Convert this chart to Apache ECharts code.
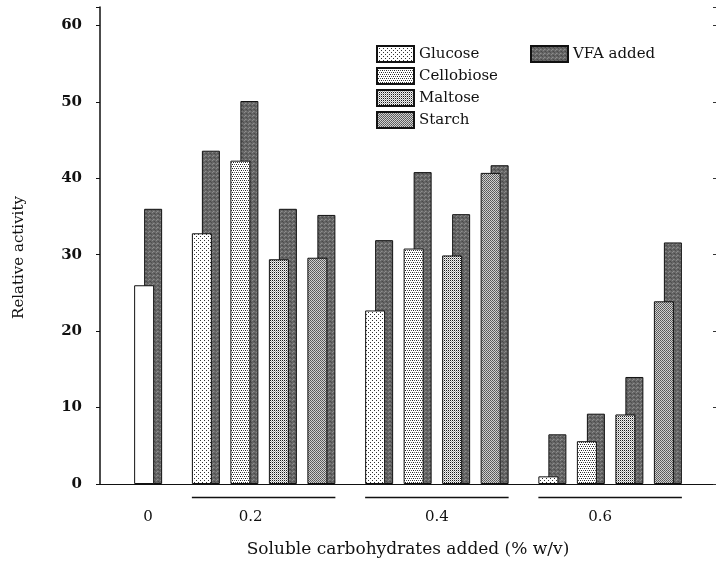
<!DOCTYPE html>
<html>
<head>
<meta charset="utf-8">
<script src="https://cdn.jsdelivr.net/npm/echarts@6/dist/echarts.min.js"></script>
<style>
html, body { margin: 0; padding: 0; background: #fff; }
#main { width: 716px; height: 562px; }
</style>
</head>
<body>
<div id="main"></div>
<script>
// carbohydrate concentrations (% w/v) and sugars
const levels = ['0.2', '0.4', '0.6'];
const sugars = ['Glucose', 'Cellobiose', 'Maltose', 'Starch'];
const yTicks = [0, 10, 20, 30, 40, 50, 60];

// control: no carbohydrate added
const controlValue = 26.0;
const controlVfa = 36.0;

// values for 0.2 / 0.4 / 0.6
const glucose = [32.8, 22.7, 1.0];
const glucoseVfa = [43.6, 31.9, 6.5];
const cellobiose = [42.3, 30.8, 5.6];
const cellobioseVfa = [50.1, 40.8, 9.2];
const maltose = [29.4, 29.9, 9.1];
const maltoseVfa = [36.0, 35.3, 14.0];
const starch = [29.6, 40.7, 23.9];
const starchVfa = [35.2, 41.7, 31.6];

const plain = { Glucose: glucose, Cellobiose: cellobiose, Maltose: maltose, Starch: starch };
const withVfa = { Glucose: glucoseVfa, Cellobiose: cellobioseVfa, Maltose: maltoseVfa, Starch: starchVfa };

// slots on the category axis, null = empty space
const slots = [];
slots.push(null, null);
slots.push({ sugar: 'Control', li: -1 });
levels.forEach((lv, li) => {
  slots.push(null, null);
  sugars.forEach((s, si) => {
    if (si > 0) slots.push(null);
    slots.push({ sugar: s, li: li });
  });
});
slots.push(null, null);

// group labels sit a little left of the group middle in the original
const labelShift = { '0.2': 26, '0.4': 0, '0.6': 20 };
const labelAt = {};
const groupEnds = [];
slots.forEach((s, i) => { if (s && s.sugar === 'Control') labelAt[i] = '0'; });
levels.forEach((lv, li) => {
  const idx = slots.map((s, i) => (s && s.li === li ? i : -1)).filter(i => i >= 0);
  labelAt[Math.round((idx[0] + idx[idx.length - 1]) / 2)] = '{g' + li + '|' + lv + '}';
  groupEnds.push([idx[0], idx[idx.length - 1]]);
});
const labelRich = {};
levels.forEach((lv, li) => {
  labelRich['g' + li] = { fontFamily: 'DejaVu Serif', fontSize: 15, color: '#111', padding: [0, labelShift[lv], 0, 0] };
});

const makePattern = (size, bg, dots) => {
  const c = document.createElement('canvas');
  c.width = size; c.height = size;
  const g = c.getContext('2d');
  g.fillStyle = bg;
  g.fillRect(0, 0, size, size);
  dots.forEach(([x, y, col]) => { g.fillStyle = col; g.fillRect(x, y, 1, 1); });
  return { image: c, repeat: 'repeat' };
};

const fills = {
  Control: '#ffffff',
  Glucose: makePattern(4, '#ffffff', [[0, 0, '#333'], [2, 2, '#333']]),
  Cellobiose: makePattern(4, '#ffffff', [[0, 0, '#222'], [2, 0, '#555'], [1, 2, '#222'], [3, 2, '#555']]),
  Maltose: makePattern(2, '#f2f2f2', [[0, 0, '#1a1a1a'], [1, 1, '#aaaaaa']]),
  Starch: makePattern(2, '#d0d0d0', [[0, 0, '#555'], [1, 1, '#666']]),
  VFA: makePattern(4, '#666666', [[0, 0, '#8a8a8a'], [2, 1, '#4a4a4a'], [1, 3, '#8e8e8e'], [3, 2, '#505050'], [2, 3, '#777'], [1, 1, '#5c5c5c']])
};

const lightW = 20;
const darkW = 18;

const lightSeries = ['Control'].concat(sugars).map(sugar => ({
  name: sugar,
  type: 'bar',
  stack: 'light',
  barWidth: lightW,
  barGap: '-50%',
  z: 3,
  itemStyle: { color: fills[sugar], borderColor: '#111', borderWidth: 1 },
  data: slots.map(s => {
    if (!s || s.sugar !== sugar) return '-';
    return sugar === 'Control' ? controlValue : plain[sugar][s.li];
  })
}));

const vfaSeries = {
  name: 'VFA added',
  type: 'bar',
  stack: 'dark',
  barWidth: darkW,
  barGap: '-50%',
  z: 2,
  itemStyle: { color: fills.VFA, borderColor: '#111', borderWidth: 1 },
  data: slots.map(s => {
    if (!s) return '-';
    return s.sugar === 'Control' ? controlVfa : withVfa[s.sugar][s.li];
  })
};

const font = 'DejaVu Serif';
const myChart = echarts.init(document.getElementById('main'));

myChart.setOption({
  animation: false,
  backgroundColor: '#fff',
  grid: { left: 100, right: 0, top: 7, bottom: 78, outerBoundsMode: 'none', containLabel: false },
  legend: [
    {
      orient: 'vertical',
      left: 376,
      top: 45,
      padding: 0,
      itemWidth: 37,
      itemHeight: 16,
      itemGap: 4,
      icon: 'rect',
      selectedMode: false,
      textStyle: { fontFamily: font, fontSize: 15, color: '#111' },
      data: sugars
    },
    {
      left: 530,
      top: 45,
      padding: 0,
      itemWidth: 37,
      itemHeight: 16,
      icon: 'rect',
      selectedMode: false,
      textStyle: { fontFamily: font, fontSize: 15, color: '#111' },
      data: ['VFA added']
    }
  ],
  xAxis: [
    {
      type: 'category',
      data: slots.map((s, i) => 's' + i),
      name: 'Soluble carbohydrates added (% w/v)',
      nameLocation: 'middle',
      nameGap: 57,
      nameTextStyle: { fontFamily: font, fontSize: 17, color: '#111' },
      axisTick: { show: false },
      axisLine: { lineStyle: { color: '#111', width: 1 } },
      axisLabel: {
        interval: 0,
        margin: 26,
        fontFamily: font,
        fontSize: 15,
        color: '#111',
        rich: labelRich,
        formatter: (v, i) => labelAt[i] || ''
      }
    },
    {
      type: 'category',
      position: 'top',
      data: slots.map((s, i) => 's' + i),
      axisTick: { show: false },
      axisLabel: { show: false },
      axisLine: { lineStyle: { color: '#111', width: 1 } }
    }
  ],
  yAxis: [
    {
      type: 'value',
      min: 0,
      max: 62.4,
      interval: 10,
      name: 'Relative activity',
      nameLocation: 'middle',
      nameGap: 73,
      nameRotate: 90,
      nameTextStyle: { fontFamily: font, fontSize: 15, color: '#111', padding: [0, 24, 0, 0] },
      splitLine: { show: false },
      axisLine: { show: true, lineStyle: { color: '#111', width: 1.5 } },
      axisTick: { show: true, length: 4, lineStyle: { color: '#111' } },
      axisLabel: {
        margin: 18,
        fontFamily: font,
        fontSize: 15,
        fontWeight: 'bold',
        color: '#111',
        formatter: v => (yTicks.indexOf(v) >= 0 ? String(v) : '')
      }
    },
    {
      type: 'value',
      position: 'right',
      min: 0,
      max: 62.4,
      interval: 10,
      splitLine: { show: false },
      axisLine: { show: false },
      axisTick: { show: true, inside: true, length: 3, lineStyle: { color: '#333' } },
      axisLabel: { show: false }
    }
  ],
  series: lightSeries.concat([vfaSeries])
});

// underline each concentration group below the axis
const lineY = myChart.convertToPixel({ yAxisIndex: 0 }, 0) + 13.5;
const halfPair = (lightW + darkW) / 2 - 5;
myChart.setOption({
  graphic: groupEnds.map(([a, b]) => ({
    type: 'line',
    silent: true,
    shape: {
      x1: myChart.convertToPixel({ xAxisIndex: 0 }, a) - halfPair,
      y1: lineY,
      x2: myChart.convertToPixel({ xAxisIndex: 0 }, b) + halfPair,
      y2: lineY
    },
    style: { stroke: '#111', lineWidth: 1.5 }
  }))
});
</script>
</body>
</html>
